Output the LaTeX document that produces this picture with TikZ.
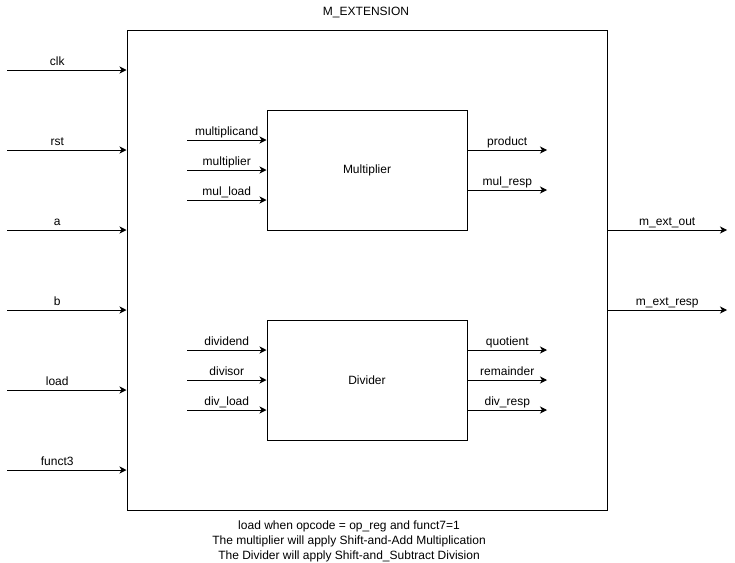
\documentclass[tikz,border=0pt]{standalone}
\usepackage{fontspec}
\setmainfont{Liberation Sans}
\usetikzlibrary{arrows.meta,positioning}

\begin{document}
\begin{tikzpicture}[
  x=1pt, y=-1pt,
  font=\fontsize{12}{15}\selectfont,
  block/.style={draw, line width=1pt, inner sep=0pt},
  unit/.style={block, minimum width=200pt, minimum height=120pt},
  sig/.style={line width=1pt, -{Stealth[length=7pt,width=7pt,inset=2pt]}},
  lbl/.style={anchor=base, yshift=5pt, inner sep=0pt},
]
\useasboundingbox (0,0) rectangle (735,562);
% Blocks
\node[block, minimum width=480pt, minimum height=480pt] (ext) at (367,270) {};
\node[anchor=base, inner sep=0pt] (title) at (366,15) {M\_EXTENSION};
\node[unit] (mul) at (367,170) {Multiplier};
\node[unit] (div) at (367,380) {Divider};
% Top-level inputs
\coordinate (clk)   at (7,70);
\coordinate (rst)   at (7,150);
\coordinate (a)     at (7,230);
\coordinate (b)     at (7,310);
\coordinate (load)  at (7,390);
\coordinate (funct) at (7,470);
\draw[sig] (clk)   -- (clk -| ext.west)   node[lbl, pos=0.42] {clk};
\draw[sig] (rst)   -- (rst -| ext.west)   node[lbl, pos=0.42] {rst};
\draw[sig] (a)     -- (a -| ext.west)     node[lbl, pos=0.42] {a};
\draw[sig] (b)     -- (b -| ext.west)     node[lbl, pos=0.42] {b};
\draw[sig] (load)  -- (load -| ext.west)  node[lbl, pos=0.42] {load};
\draw[sig] (funct) -- (funct -| ext.west) node[lbl, pos=0.42] {funct3};
% Top-level outputs
\coordinate (extout)  at (727,230);
\coordinate (extresp) at (727,310);
\draw[sig] (extout -| ext.east)  -- (extout)  node[lbl, midway] {m\_ext\_out};
\draw[sig] (extresp -| ext.east) -- (extresp) node[lbl, midway] {m\_ext\_resp};
% Multiplier ports
\coordinate (mcand) at (187,140);
\coordinate (mplr)  at (187,170);
\coordinate (mload) at (187,200);
\coordinate (prod)  at (547,150);
\coordinate (mresp) at (547,190);
\draw[sig] (mcand) -- (mcand -| mul.west) node[lbl, midway] {multiplicand};
\draw[sig] (mplr)  -- (mplr -| mul.west)  node[lbl, midway] {multiplier};
\draw[sig] (mload) -- (mload -| mul.west) node[lbl, midway] {mul\_load};
\draw[sig] (prod -| mul.east)  -- (prod)  node[lbl, midway] {product};
\draw[sig] (mresp -| mul.east) -- (mresp) node[lbl, midway] {mul\_resp};
% Divider ports
\coordinate (dvnd)  at (187,350);
\coordinate (dvsr)  at (187,380);
\coordinate (dload) at (187,410);
\coordinate (quot)  at (547,350);
\coordinate (rem)   at (547,380);
\coordinate (dresp) at (547,410);
\draw[sig] (dvnd)  -- (dvnd -| div.west)  node[lbl, midway] {dividend};
\draw[sig] (dvsr)  -- (dvsr -| div.west)  node[lbl, midway] {divisor};
\draw[sig] (dload) -- (dload -| div.west) node[lbl, midway] {div\_load};
\draw[sig] (quot -| div.east)  -- (quot)  node[lbl, midway] {quotient};
\draw[sig] (rem -| div.east)   -- (rem)   node[lbl, midway] {remainder};
\draw[sig] (dresp -| div.east) -- (dresp) node[lbl, midway] {div\_resp};
% Note
\node[anchor=north, align=center, inner sep=0pt] (note) at (349,521)
  {load when opcode = op\_reg and funct7=1\\
   The multiplier will apply Shift-and-Add Multiplication\\
   The Divider will apply Shift-and\_Subtract Division};
\end{tikzpicture}
\end{document}
